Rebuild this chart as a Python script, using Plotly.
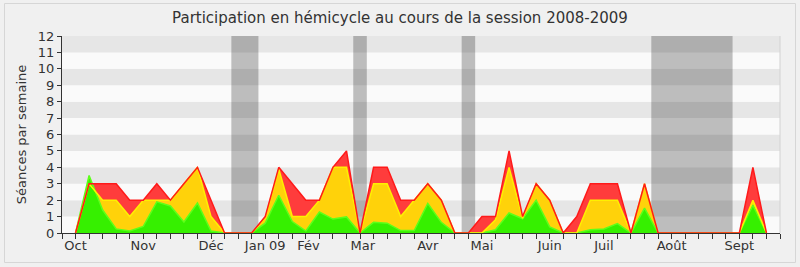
import plotly.graph_objects as go

# Week index (0 = first week of October 2008)
weeks = list(range(0, 52))

# Series values (séances per week)
red_vals = [0, 3, 3, 3, 2, 2, 3, 2, 3, 4, 2, 0, 0, 0, 1, 4, 3, 2, 2, 4,
            5, 0, 4, 4, 2, 2, 3, 2, 0, 0, 1, 1, 5, 1, 3, 2, 0, 1, 3, 3,
            3, 0, 3, 0, 0, 0, 0, 0, 0, 0, 4, 0]
yellow_vals = [0, 3, 2, 2, 1, 2, 2, 2, 3, 4, 1, 0, 0, 0, 0.9, 3.9, 1, 1, 2, 4,
               4, 0, 3, 3, 1, 2, 3, 2, 0, 0, 0, 0.8, 4, 0.9, 3, 2, 0, 0, 2, 2,
               2, 0, 3, 0, 0, 0, 0, 0, 0, 0, 2, 0]
green_vals = [0, 3.5, 1.4, 0.25, 0.12, 0.4, 1.9, 1.65, 0.67, 1.83, 0.12, 0, 0, 0, 0.6, 2.3, 0.7, 0.12, 1.28, 0.85,
              0.98, 0, 0.65, 0.6, 0.15, 0.15, 1.8, 0.65, 0, 0, 0, 0.2, 1.22, 0.87, 2, 0.37, 0, 0, 0.2, 0.24,
              0.57, 0, 1.52, 0, 0, 0, 0, 0, 0, 0, 1.7, 0]

# Month labels and their week positions
month_labels = ["Oct", "Nov", "Déc", "Jan 09", "Fév", "Mar", "Avr", "Mai", "Juin", "Juil", "Août", "Sept"]
month_weeks = [0, 5, 10, 14, 17.2, 21.2, 26, 30, 35, 39, 44, 49]

# Parliamentary recess periods (in week units)
vacation_starts = [11.5, 20.5, 28.5, 42.5]
vacation_ends = [13.5, 21.5, 29.5, 48.5]

FONT = "DejaVu Sans"
TXT = "#333333"

fig = go.Figure()

fills = [(red_vals, "#FF3C3C"), (yellow_vals, "#FFD20A"), (green_vals, "#36F000")]
for vals, col in fills:
    fig.add_trace(go.Scatter(x=weeks, y=vals, mode="lines", fill="tozeroy",
                             fillcolor=col, line=dict(width=0, color=col),
                             hoverinfo="skip", showlegend=False))

lines = [(green_vals, "#5CFF1A"), (yellow_vals, "#FFF000"), (red_vals, "#FF1A1A")]
for vals, col in lines:
    fig.add_trace(go.Scatter(x=weeks, y=vals, mode="lines",
                             line=dict(width=1.5, color=col),
                             hoverinfo="skip", showlegend=False))

shapes = []
# horizontal alternating stripes
for k in range(12):
    shapes.append(dict(type="rect", xref="paper", yref="y", x0=0, x1=1, y0=k, y1=k + 1,
                       fillcolor="#E6E6E6" if k % 2 == 1 else "#FAFAFA",
                       line=dict(width=0), layer="below"))
# recess bands
for a, b in zip(vacation_starts, vacation_ends):
    shapes.append(dict(type="rect", xref="x", yref="paper", x0=a, x1=b, y0=0, y1=1,
                       fillcolor="rgba(0,0,0,0.245)", line=dict(width=0), layer="below"))
# right border of plot
shapes.append(dict(type="line", xref="paper", yref="paper", x0=1, x1=1, y0=0, y1=1,
                   line=dict(color="#D2D2D2", width=1)))
# outer rounded frame
L, R, T, B = 62, 20, 36, 34
W, H = 800, 267
pw, ph = W - L - R, H - T - B
def px(x):
    return (x - L) / pw
def py(y):
    return (H - B - y) / ph
shapes.append(dict(type="rect", xref="paper", yref="paper",
                   x0=px(4.5), x1=px(795.5), y0=py(262.5), y1=py(3.5),
                   line=dict(color="#D6D6D6", width=1), layer="below"))

fig.update_layout(
    width=W, height=H,
    margin=dict(l=L, r=R, t=T, b=B),
    paper_bgcolor="#F0F0F0",
    plot_bgcolor="#FAFAFA",
    shapes=shapes,
    title=dict(text="Participation en hémicycle au cours de la session 2008-2009",
               x=0.5, xanchor="center", y=1 - 18 / H, yanchor="middle",
               font=dict(family=FONT, size=15, color=TXT)),
    font=dict(family=FONT, size=13, color=TXT),
    xaxis=dict(range=[-1, 52], tickvals=month_weeks, ticktext=month_labels,
               ticks="", showgrid=False, zeroline=False,
               showline=True, linecolor="#333333", linewidth=1,
               tickfont=dict(family=FONT, size=13, color=TXT),
               minor=dict(ticks="outside", ticklen=5, tickcolor="#333333",
                          tick0=0, dtick=1, showgrid=False)),
    xaxis2=dict(range=[-1, 52], overlaying="x", side="top", anchor="y",
                tick0=0, dtick=1, ticks="outside", ticklen=2, tickcolor="#555555",
                showticklabels=False, showgrid=False, zeroline=False, showline=False),
    yaxis=dict(range=[0, 12], dtick=1, ticks="outside", ticklen=4, tickcolor="#333333",
               showgrid=False, zeroline=False, showline=True, linecolor="#333333",
               linewidth=1, tickfont=dict(family=FONT, size=13, color=TXT),
               title=dict(text="Séances par semaine", standoff=8,
                          font=dict(family=FONT, size=13, color=TXT))),
)

fig.write_html("out.html")
